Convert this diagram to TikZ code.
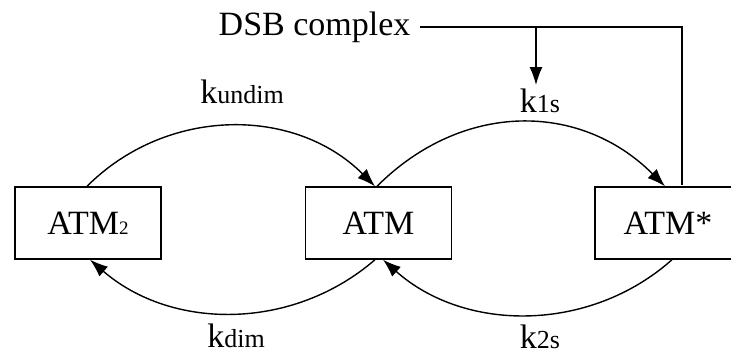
\documentclass[tikz,border=0pt]{standalone}
\usepackage{fontspec}
\setmainfont{Liberation Serif}
\usetikzlibrary{arrows.meta,calc}
\newcommand\Kbig{\fontsize{34}{40}\selectfont}
\newcommand\Ksmall{\fontsize{26}{30}\selectfont}
\newcommand\Ktiny{\fontsize{19}{22}\selectfont}
\begin{document}
\begin{tikzpicture}[x=1pt,y=-1pt,line width=1.4pt,
  box/.style={draw,minimum width=146pt,minimum height=72pt,inner sep=0pt,font=\Kbig},
  arr/.style={-{Latex[length=18pt,width=13pt]}},
  lbl/.style={anchor=base,inner sep=0pt,font=\Kbig}]
\useasboundingbox (0,0) rectangle (731,359);
\clip (0,0) rectangle (731,359);
% boxes
\node[box] (atmtwo) at (88,223) {ATM{\Ktiny 2}};
\node[box] (atm) at (378.5,223) {ATM};
\node[box] (atmstar) at (668,223) {ATM*};
% labels
\node[lbl] (kundim) at (242,103) {k{\Ksmall undim}};
\node[lbl] (kones) at (540,112) {k{\Ksmall 1s}};
\node[lbl] (kdim) at (236,347) {k{\Ksmall dim}};
\node[lbl] (ktwos) at (540,348) {k{\Ksmall 2s}};
\node[anchor=base west,inner sep=0pt,font=\Kbig] (dsb) at (218,35) {DSB complex};
% DSB feedback line
\coordinate (corner) at (682,27);
\coordinate (branch) at (536,27);
\coordinate (tip) at (536,85);
\coordinate (lineend) at (682,185);
\draw ($(dsb.east |- corner)+(9,0)$) -- (corner) -- (lineend);
\draw[arr] (branch) -- (tip);
% arcs
\draw[arr] ([xshift=-1pt]atmtwo.north) .. controls +(80,-80) and +(-80,-80) .. ([xshift=-3.5pt]atm.north);
\draw[arr] ([xshift=-1.5pt]atm.north) .. controls +(85,-85) and +(-85,-85) .. ([xshift=-3pt]atmstar.north);
\draw[arr] ([xshift=-3.5pt]atm.south) .. controls +(-82,71) and +(82,71) .. ([xshift=2pt]atmtwo.south);
\draw[arr] ([xshift=4pt]atmstar.south) .. controls +(-82,73) and +(82,73) .. ([xshift=4.5pt]atm.south);
\end{tikzpicture}
\end{document}
